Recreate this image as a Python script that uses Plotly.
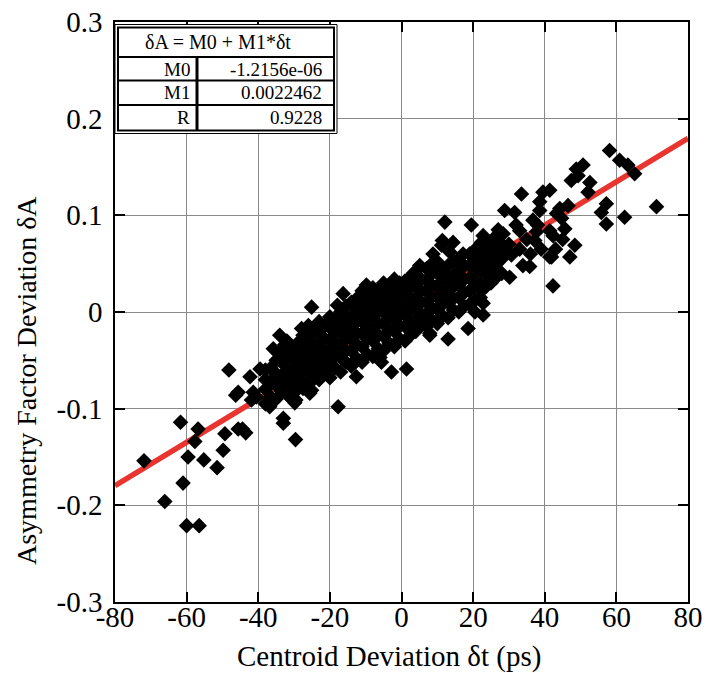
import plotly.graph_objects as go

# ---------------- data ----------------
# isolated / edge points (dt in ps, dA)
edge_dt = [-71.9, -66.1, -61.7, -61.0, -60.0, -59.6, -57.7, -56.8, -56.5, -55.2,
           -51.5, -49.8, -49.3, -48.2, -46.3, -45.6, -44.4, -43.5, -33.0, -29.6,
           -41.4, -41.9, -40.5, -37.2, -36.8, -33.0, -29.5, -29.8, -25.1, -30.7,
           -31.2, -27.5, -25.6, -17.7, -20.0, -23.7, -21.9, -39.5, -42.3, -45.6,
           -34.0, -35.8, -32.6, -27.9, -25.1, -17.9, -16.3, -11.6, -9.8, -5.1,
           -12.6, -5.6, -2.8, 1.4, -6.0,
           58.1, 60.9, 63.2, 65.1, 50.7, 48.8, 49.3, 47.4, 52.6, 52.1,
           39.5, 41.4, 33.5, 38.6, 38.6, 28.8, 31.6, 43.3, 46.5, 44.2,
           44.7, 57.2, 55.8, 57.2, 62.3, 71.2, 36.7, 12.1, 19.5, 11.4,
           14.4, 22.8, 26.5, 28.4, 33.0, 37.7, 41.4, 42.3, 37.2, 45.6,
           41.4, 48.4, 47.0, 42.3, 35.8, 41.9, 33.9, 30.2, 28.8, 22.3,
           20.9, 24.6, 17.2, 13.5, 8.8, 11.2, 5.1, 3.3, 4.2, 28.4,
           30.7, 22.3, 22.8, 22.8, 20.5, 18.6, 13.0, 7.9, 7.9, 5.1,
           2.3, -14.9, 26.0, 30.0, 33.0, 35.0, 38.0, 32.0, 27.0, 24.0,
           36.0, 39.0, 43.0, 45.0]
edge_dA = [-0.154, -0.196, -0.114, -0.177, -0.221, -0.150, -0.134, -0.121, -0.221, -0.153,
           -0.161, -0.143, -0.126, -0.060, -0.086, -0.121, -0.121, -0.125, -0.115, -0.132,
           -0.083, -0.091, -0.088, -0.096, -0.098, -0.110, -0.091, -0.094, -0.081, -0.090,
           -0.081, -0.079, -0.084, -0.098, -0.057, -0.067, -0.043, -0.059, -0.067, -0.083,
           -0.024, -0.038, -0.034, -0.017, 0.005, 0.007, 0.019, 0.005, 0.028, 0.026,
           -0.067, -0.052, -0.062, -0.059, -0.047,
           0.167, 0.157, 0.152, 0.143, 0.152, 0.148, 0.141, 0.136, 0.134, 0.124,
           0.124, 0.126, 0.122, 0.114, 0.105, 0.105, 0.103, 0.102, 0.110, 0.107,
           0.097, 0.112, 0.103, 0.091, 0.098, 0.109, 0.095, 0.093, 0.090, 0.074,
           0.072, 0.079, 0.079, 0.081, 0.084, 0.083, 0.084, 0.079, 0.074, 0.086,
           0.057, 0.069, 0.057, 0.027, 0.047, 0.057, 0.048, 0.036, 0.062, 0.072,
           0.066, 0.072, 0.060, 0.062, 0.060, 0.069, 0.048, 0.040, 0.043, 0.060,
           0.059, 0.022, 0.009, -0.003, 0.000, -0.017, -0.028, -0.022, -0.024, -0.010,
           -0.017, -0.016, 0.050, 0.070, 0.065, 0.075, 0.090, 0.090, 0.085, 0.060,
           0.060, 0.065, 0.065, 0.075]

# dense central band, read column by column
band_dt = [-38, -36.5, -35, -33.5, -32, -30.5, -29, -27.5, -26, -24.5, -23, -21.5,
           -20, -18.5, -17, -15.5, -14, -12.5, -11, -9.5, -8, -6.5, -5, -3.5, -2,
           -0.5, 1, 2.5, 4, 5.5, 7, 8.5, 10, 11.5, 13, 14.5, 16, 17.5, 19, 20.5,
           22, 23.5, 25, 26.5, 28]
band_dA = [
    [-0.095, -0.080, -0.070, -0.060],
    [-0.088, -0.072, -0.058],
    [-0.090, -0.076, -0.064, -0.050],
    [-0.082, -0.068, -0.052, -0.040],
    [-0.085, -0.072, -0.060, -0.046, -0.030],
    [-0.076, -0.062, -0.050, -0.038],
    [-0.080, -0.068, -0.055, -0.044, -0.032],
    [-0.072, -0.060, -0.048, -0.036, -0.024],
    [-0.075, -0.062, -0.050, -0.040, -0.026, -0.014],
    [-0.068, -0.055, -0.044, -0.032, -0.020],
    [-0.070, -0.058, -0.046, -0.035, -0.022, -0.010],
    [-0.062, -0.050, -0.040, -0.028, -0.015],
    [-0.068, -0.052, -0.038, -0.028, -0.016, -0.005],
    [-0.058, -0.045, -0.032, -0.020, -0.008],
    [-0.062, -0.047, -0.035, -0.022, -0.010, 0.000],
    [-0.052, -0.040, -0.028, -0.016, -0.004, 0.006],
    [-0.056, -0.040, -0.028, -0.018, -0.005, 0.010],
    [-0.048, -0.034, -0.022, -0.010, 0.002, 0.014],
    [-0.052, -0.036, -0.022, -0.010, 0.000, 0.012, 0.022],
    [-0.044, -0.028, -0.016, -0.004, 0.008, 0.018],
    [-0.046, -0.030, -0.018, -0.006, 0.005, 0.015, 0.025],
    [-0.038, -0.024, -0.012, 0.000, 0.012, 0.022],
    [-0.040, -0.025, -0.012, 0.000, 0.010, 0.020, 0.030],
    [-0.032, -0.018, -0.006, 0.006, 0.018, 0.028],
    [-0.036, -0.020, -0.008, 0.004, 0.014, 0.025, 0.034],
    [-0.028, -0.014, -0.002, 0.010, 0.022, 0.030],
    [-0.030, -0.015, -0.003, 0.008, 0.020, 0.032],
    [-0.024, -0.010, 0.002, 0.014, 0.026, 0.036],
    [-0.020, -0.008, 0.004, 0.015, 0.026, 0.038],
    [-0.014, -0.002, 0.010, 0.022, 0.034],
    [-0.015, -0.002, 0.010, 0.022, 0.033, 0.045],
    [-0.008, 0.004, 0.016, 0.028, 0.040, 0.050],
    [-0.012, 0.003, 0.015, 0.027, 0.040, 0.052],
    [-0.004, 0.008, 0.020, 0.032, 0.044],
    [-0.006, 0.010, 0.022, 0.035, 0.048],
    [0.002, 0.014, 0.026, 0.038, 0.052],
    [0.000, 0.015, 0.028, 0.042, 0.055],
    [0.006, 0.020, 0.034, 0.048],
    [0.008, 0.022, 0.035, 0.048, 0.060],
    [0.012, 0.026, 0.040, 0.054],
    [0.015, 0.030, 0.045, 0.058],
    [0.026, 0.040, 0.052, 0.064],
    [0.030, 0.045, 0.058, 0.070],
    [0.036, 0.050, 0.064],
    [0.040, 0.055, 0.070],
]

fit_M0 = -1.2156e-06
fit_M1 = 0.0022462
fit_R = 0.9228
fit_dt = [-80, 80]

x_ticks = [-80, -60, -40, -20, 0, 20, 40, 60, 80]
x_tick_text = ["-80", "-60", "-40", "-20", "0", "20", "40", "60", "80"]
y_ticks = [-0.3, -0.2, -0.1, 0, 0.1, 0.2, 0.3]
y_tick_text = ["-0.3", "-0.2", "-0.1", "0", "0.1", "0.2", "0.3"]

x_title = "Centroid Deviation δt (ps)"
y_title = "Asymmetry Factor Deviation δA"

table_rows = ["M0", "M1", "R"]
table_vals = ["-1.2156e-06", "0.0022462", "0.9228"]
table_title = "δA = M0 + M1*δt"

# ---------------- build ----------------
xs = list(edge_dt)
ys = list(edge_dA)
for bx, col in zip(band_dt, band_dA):
    for by in col:
        xs.append(bx)
        ys.append(by)

fit_dA = [fit_M0 + fit_M1 * v for v in fit_dt]

FONT = "Liberation Serif, Times New Roman, serif"
W, H = 706, 673
L, R_, T, B = 115, 18, 22, 71
PW, PH = W - L - R_, H - T - B


def px(xp):
    return (xp - L) / PW


def py(yp):
    return (H - B - yp) / PH


fig = go.Figure()
fig.add_trace(go.Scatter(x=fit_dt, y=fit_dA, mode="lines",
                         line=dict(color="#e8352f", width=5.5), hoverinfo="skip"))
fig.add_trace(go.Scatter(x=xs, y=ys, mode="markers",
                         marker=dict(symbol="diamond", size=12, color="black",
                                     line=dict(width=0))))

shapes = []
# table borders (double frame)
shapes.append(dict(type="rect", xref="paper", yref="paper",
                   x0=px(115), x1=px(337), y0=py(133.5), y1=py(24.5),
                   line=dict(color="black", width=1), fillcolor="white", layer="above"))
shapes.append(dict(type="rect", xref="paper", yref="paper",
                   x0=px(118), x1=px(334), y0=py(130.5), y1=py(27.5),
                   line=dict(color="black", width=2), layer="above"))
for yl in [57, 80.5, 105]:
    shapes.append(dict(type="line", xref="paper", yref="paper",
                       x0=px(118), x1=px(334), y0=py(yl), y1=py(yl),
                       line=dict(color="black", width=2), layer="above"))
shapes.append(dict(type="line", xref="paper", yref="paper",
                   x0=px(197), x1=px(197), y0=py(57), y1=py(130.5),
                   line=dict(color="black", width=3), layer="above"))

TF = 19
annotations = [dict(xref="paper", yref="paper", x=px(218), y=py(42), text=table_title,
                    showarrow=False, xanchor="center", yanchor="middle",
                    font=dict(family=FONT, size=20, color="black"))]
for i, (lab, val) in enumerate(zip(table_rows, table_vals)):
    yc = [69, 93, 117.5][i]
    annotations.append(dict(xref="paper", yref="paper", x=px(192), y=py(yc), text=lab,
                            showarrow=False, xanchor="right", yanchor="middle",
                            font=dict(family=FONT, size=TF, color="black")))
    annotations.append(dict(xref="paper", yref="paper", x=px(324), y=py(yc), text=val,
                            showarrow=False, xanchor="right", yanchor="middle",
                            font=dict(family=FONT, size=TF, color="black")))

# axis titles (placed as in the reference, slightly off-centre)
annotations.append(dict(xref="paper", yref="paper", x=px(389), y=py(656), text=x_title,
                        showarrow=False, xanchor="center", yanchor="middle",
                        font=dict(family=FONT, size=29, color="black")))
annotations.append(dict(xref="paper", yref="paper", x=px(26), y=py(381), text=y_title,
                        textangle=-90, showarrow=False, xanchor="center", yanchor="middle",
                        font=dict(family=FONT, size=28, color="black")))

axis_common = dict(showline=True, linecolor="black", linewidth=1.5, mirror="ticks",
                   ticks="inside", ticklen=10, tickwidth=1.5, tickcolor="black",
                   showgrid=True, gridcolor="#8a8a8a", gridwidth=1, zeroline=False,
                   automargin=False,
                   tickfont=dict(family=FONT, size=29, color="black"))

fig.update_layout(
    width=W, height=H,
    margin=dict(l=L, r=R_, t=T, b=B),
    paper_bgcolor="white", plot_bgcolor="white",
    showlegend=False,
    font=dict(family=FONT, color="black"),
    shapes=shapes, annotations=annotations,
    xaxis=dict(range=[-80, 80], tickvals=x_ticks, ticktext=x_tick_text,
               ticklabelstandoff=-12, **axis_common),
    yaxis=dict(range=[-0.3, 0.3], tickvals=y_ticks, ticktext=y_tick_text,
               ticklabelstandoff=5, **axis_common),
)

fig.write_html("out.html")
